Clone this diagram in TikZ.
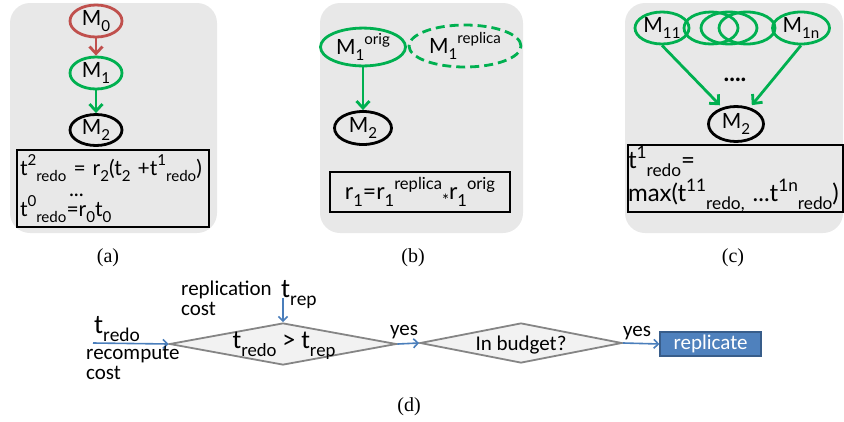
\documentclass[tikz,border=0pt]{standalone}
\usepackage{fontspec}
\setmainfont{Lato}
\newfontfamily\calfont{Carlito}
\newfontfamily\capfont{Liberation Serif}
\usetikzlibrary{shapes.geometric,arrows.meta}

\definecolor{panelgray}{HTML}{E8E8E8}
\definecolor{mred}{HTML}{C0504D}
\definecolor{mgreen}{HTML}{00B050}
\definecolor{flowblue}{HTML}{4A7EBB}
\definecolor{boxblue}{HTML}{4F81BD}
\definecolor{boxedge}{HTML}{385D8A}
\definecolor{dgray}{HTML}{858585}
\definecolor{dfill}{HTML}{F2F2F2}

% lowered / raised indices set in sequence, as in t^2_redo
\newcommand\lowtx[1]{\raisebox{-0.3em}{\scalebox{0.72}{#1}}}
\newcommand\hightx[1]{\raisebox{0.45em}{\scalebox{0.72}{#1}}}

\tikzset{
  panel/.style={fill=panelgray, draw=none, rounded corners=20pt},
  model/.style={ellipse, draw, line width=2.8pt, inner sep=0pt,
    minimum width=52pt, minimum height=32pt, font=\fontsize{21}{21}\selectfont},
  link/.style={line width=2.8pt, -{Straight Barb[length=7pt,width=13pt]}},
  formula/.style={draw, line width=2pt, inner sep=2pt, align=left,
    font=\fontsize{21}{23}\selectfont},
  caption/.style={font=\capfont\fontsize{20}{20}\selectfont},
  flow/.style={draw=flowblue, line width=1.6pt, -{Straight Barb[length=4.5pt,width=9pt]}},
  decision/.style={diamond, draw=dgray, fill=dfill, line width=1.8pt, inner sep=0pt},
  cal/.style={font=\calfont\fontsize{21}{20}\selectfont, inner sep=0pt, align=left},
}

\begin{document}
\begin{tikzpicture}[x=1pt,y=-1pt]
\useasboundingbox (0,0) rectangle (844,421);

% ---- (a) a chain of models
\fill[panel] (10,3) rectangle (217,233);
\node[model, draw=mred] (m0) at (96,21) {M\lowtx{0}};
\node[model, draw=mgreen] (m1) at (96,73) {M\lowtx{1}};
\node[model, draw=black, minimum height=31pt] (m2) at (96,130) {M\lowtx{2}};
\draw[link, mred] (m0) -- (m1);
\draw[link, mgreen] (m1) -- (m2);
\node[formula, minimum width=192pt, minimum height=77pt, text width=186pt] (fa) at (113,188.5)
  {t\hightx{2}\lowtx{redo} = r\lowtx{2}(t\lowtx{2} +t\hightx{1}\lowtx{redo})\\[-2pt]
   \hspace*{49pt}...\\[-3pt]
   t\hightx{0}\lowtx{redo}=r\lowtx{0}t\lowtx{0}};
\node[caption] (capa) at (108,258) {(a)};

% ---- (b) a replicated model
\fill[panel] (320,3) rectangle (523,233);
\node[model, draw=mgreen, minimum width=85pt, minimum height=37pt] (m1o) at (363,47)
  {M\lowtx{1}\hightx{orig}};
\node[model, draw=mgreen, dash pattern=on 9pt off 5pt, minimum width=112pt, minimum height=42pt] (m1r) at (465,46)
  {M\lowtx{1}\hightx{replica}};
\node[model, draw=black, minimum width=57pt, minimum height=33pt] (m2b) at (363,128) {M\lowtx{2}};
\draw[link, mgreen] (m1o) -- (m2b);
\node[formula, minimum width=180pt, minimum height=40pt, align=center,
  font=\fontsize{23}{23}\selectfont] (fb) at (420,192)
  {r\lowtx{1}=r\lowtx{1}\hightx{replica}\lowtx{*}r\lowtx{1}\hightx{orig}};
\node[caption] (capb) at (413,258) {(b)};

% ---- (c) many inputs to one model
\fill[panel] (625,3) rectangle (843,233);
\node[model, draw=mgreen, minimum width=54pt] (e1) at (711,28) {};
\node[model, draw=mgreen, minimum width=56pt] (e2) at (729,28) {};
\node[model, draw=mgreen, minimum width=56pt] (e3) at (747,28) {};
\node[model, draw=mgreen, minimum width=54pt] (m11) at (662,28) {M\lowtx{11}};
\node[model, draw=mgreen, minimum width=57pt] (m1n) at (801,28) {M\lowtx{1n}};
\node[font=\fontsize{24}{24}\selectfont\bfseries, inner sep=0pt] (dots) at (735,80) {....};
\node[model, draw=black, minimum width=55pt, minimum height=35pt] (m2c) at (736,124) {M\lowtx{2}};
\draw[link, mgreen, shorten >=3pt] (m11.south) -- (m2c.130);
\draw[link, mgreen, shorten >=3pt] (m1n.south) -- (m2c.50);
\node[formula, minimum width=215pt, minimum height=67pt, text width=215pt, inner sep=0pt,
  font=\fontsize{24}{33}\selectfont] (fc) at (735.5,178.5)
  {t\hightx{1}\lowtx{redo}=\\
   max(t\hightx{11}\lowtx{redo,} ...t\hightx{1n}\lowtx{redo})};
\node[caption] (capc) at (733,258) {(c)};

% ---- (d) the replication decision
\coordinate (redoin) at (93,343);
\coordinate (repin) at (283,298);
\node[decision, minimum width=227pt, minimum height=42pt] (d1) at (283,344) {};
\node[cal, font=\calfont\fontsize{26}{26}\selectfont] (d1t) at (284,346) {t\lowtx{redo} > t\lowtx{rep}};
\node[decision, minimum width=202pt, minimum height=40pt] (d2) at (521,343) {};
\node[cal] (d2t) at (521,345) {In budget?};
\node[rectangle, fill=boxblue, draw=boxedge, line width=1.2pt, minimum width=101pt, minimum height=24pt,
  inner sep=0pt, text=white, font=\calfont\fontsize{21}{21}\selectfont] (rep) at (710.5,344) {replicate};
\draw[flow] (redoin) -- (d1.west);
\draw[flow] (repin) -- (d1.north);
\draw[flow] (d1.east) -- (d2.west);
\draw[flow] (d2.east) -- (rep.west);
% two-line labels: the base anchor sits on the last line
\node[cal, anchor=base west, font=\calfont\fontsize{27}{27}\selectfont] (tredo) at (94,333) {t\lowtx{redo}};
\node[cal, anchor=base west] (rcost) at (86,379) {recompute\\cost};
\node[cal, anchor=base west] (pcost) at (181,315) {replication\\cost};
\node[cal, anchor=base west, font=\calfont\fontsize{27}{27}\selectfont] (trep) at (281,297) {t\lowtx{rep}};
\node[cal, anchor=base west] (yes1) at (390,335) {yes};
\node[cal, anchor=base west] (yes2) at (623,336) {yes};
\node[caption] (capd) at (409,407) {(d)};
\end{tikzpicture}
\end{document}
